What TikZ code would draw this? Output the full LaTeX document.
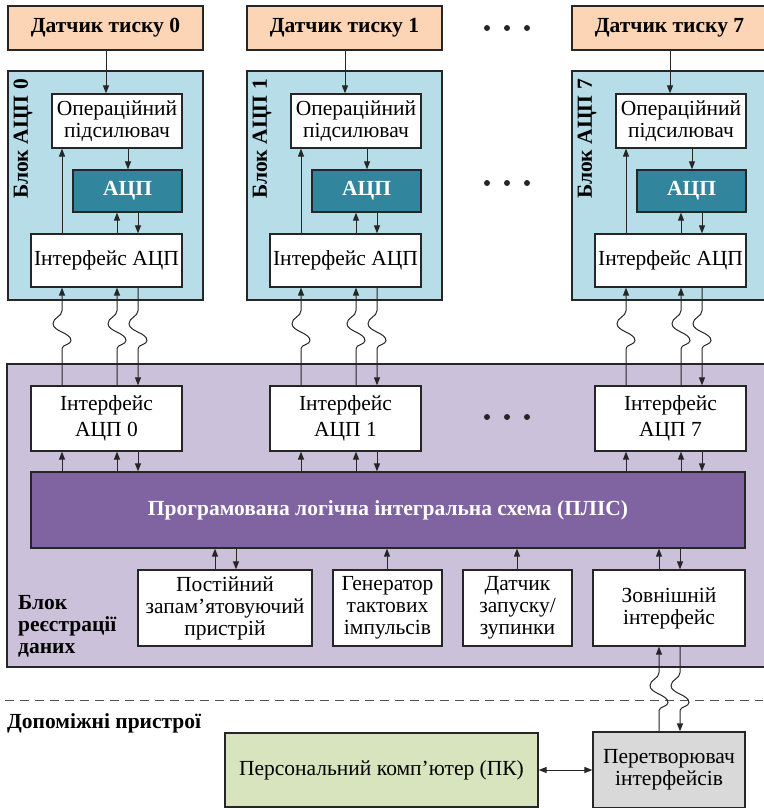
\documentclass[tikz,border=0pt]{standalone}
\usepackage{fontspec}
\setmainfont{Liberation Serif}
\usetikzlibrary{arrows.meta}
\definecolor{peach}{HTML}{FBD5B5}
\definecolor{ltblue}{HTML}{B7DDE8}
\definecolor{tealadc}{HTML}{31859C}
\definecolor{lav}{HTML}{CCC1DA}
\definecolor{purp}{HTML}{8064A2}
\definecolor{ltgreen}{HTML}{D7E4BD}
\definecolor{ltgray}{HTML}{D9D9D9}
\definecolor{edge}{HTML}{262626}
\newcommand\regf{\fontsize{21.5}{22}\selectfont}
\newcommand\bldf{\fontsize{21.5}{22}\selectfont\bfseries}
\tikzset{
  bx/.style={draw=edge, line width=1.2pt, inner sep=0pt, align=center, font=\regf},
  wbox/.style={bx, fill=white},
  arr/.style={draw=edge, line width=1pt, -{Triangle[length=8pt,width=6pt]}},
  arrr/.style={draw=edge, line width=1pt, {Triangle[length=8pt,width=6pt]}-},
  wavy/.style={insert path={.. controls +(0,6) and +(0,-6) .. ++(-9,13) .. controls +(0,8) and +(0,-8) .. ++(18,17) .. controls +(0,4) and +(0,-4) .. ++(-9,8)}},
  dotc/.style={fill=edge}
}
\begin{document}
\begin{tikzpicture}[x=1pt,y=-1pt]
\useasboundingbox (0,0) rectangle (763,808);
\fill[white] (0,0) rectangle (763,808);
% data registration block
\node[bx, fill=lav, minimum width=768pt, minimum height=303pt] (reg) at (391,515.5) {};
\node[font=\bldf, align=left, anchor=west, inner sep=0pt] (reglab) at (18,626) {\fontsize{21.5}{20.5}\selectfont Блок\\реєстрації\\даних};
\foreach \i/\d in {0/0,1/239,7/564}{
  \begin{scope}[xshift=\d pt]
    \node[bx, fill=peach, font=\bldf, minimum width=195pt, minimum height=44pt] (s\i) at (105.5,28) {Датчик тиску \i};
    \node[bx, fill=ltblue, minimum width=195pt, minimum height=229pt] (b\i) at (105.5,185.5) {};
    \node[font=\bldf, rotate=90, anchor=east, inner sep=0pt] (bl\i) at (23,79) {Блок АЦП \i};
    \node[wbox, minimum width=130pt, minimum height=54pt] (op\i) at (117,121) {Операційний\\підсилювач};
    \node[bx, fill=tealadc, text=white, font=\bldf, minimum width=109pt, minimum height=42pt] (adc\i) at (127.5,191) {АЦП};
    \node[wbox, minimum width=151pt, minimum height=53pt] (ia\i) at (106.5,260.5) {Інтерфейс АЦП};
    \node[wbox, font=\fontsize{21.5}{26}\selectfont, minimum width=151pt, minimum height=65pt] (li\i) at (106.5,418.5) {Інтерфейс\\АЦП \i};
    \coordinate (xa\i) at (62,0);
    \coordinate (xb\i) at (117,0);
    \coordinate (xc\i) at (138,0);
    \coordinate (xd\i) at (106,0);
    \coordinate (xe\i) at (128,0);
  \end{scope}
  \draw[arr] (s\i.south -| xd\i) -- (op\i.north -| xd\i);
  \draw[arr] (op\i.south -| xe\i) -- (adc\i.north -| xe\i);
  \draw[arr] (ia\i.north -| xb\i) -- (adc\i.south -| xb\i);
  \draw[arr] (adc\i.south -| xc\i) -- (ia\i.north -| xc\i);
  \draw[arr] (ia\i.north -| xa\i) -- (op\i.south -| xa\i);
  \draw[arrr] (ia\i.south -| xa\i) -- ++(0,23) [wavy] -- (li\i.north -| xa\i);
  \draw[arrr] (ia\i.south -| xb\i) -- ++(0,23) [wavy] -- (li\i.north -| xb\i);
  \draw[arr] (ia\i.south -| xc\i) -- ++(0,23) [wavy] -- (li\i.north -| xc\i);
}
% PLIS
\node[bx, fill=purp, text=white, font=\bldf, minimum width=714pt, minimum height=76pt] (plis) at (388,510) {Програмована логічна інтегральна схема (ПЛІС)};
\foreach \i in {0,1,7}{
  \draw[arr] (plis.north -| xa\i) -- (li\i.south -| xa\i);
  \draw[arr] (plis.north -| xb\i) -- (li\i.south -| xb\i);
  \draw[arr] (li\i.south -| xc\i) -- (plis.north -| xc\i);
}
% bottom boxes
\node[wbox, minimum width=174pt, minimum height=76pt] (rom) at (225,608) {Постійний\\запам’ятовуючий\\пристрій};
\node[wbox, minimum width=109pt, minimum height=76pt] (gen) at (387.5,608) {Генератор\\тактових\\імпульсів};
\node[wbox, minimum width=109pt, minimum height=76pt] (stp) at (517.5,608) {Датчик\\запуску/\\зупинки};
\node[wbox, minimum width=152pt, minimum height=76pt] (ext) at (669,608) {Зовнішній\\інтерфейс};
\coordinate (r1) at (215,0);
\coordinate (r2) at (236,0);
\coordinate (g1) at (387,0);
\coordinate (d1) at (517,0);
\coordinate (e1) at (659,0);
\coordinate (e2) at (680,0);
\draw[arr] (rom.north -| r1) -- (plis.south -| r1);
\draw[arr] (plis.south -| r2) -- (rom.north -| r2);
\draw[arr] (gen.north -| g1) -- (plis.south -| g1);
\draw[arr] (stp.north -| d1) -- (plis.south -| d1);
\draw[arr] (ext.north -| e1) -- (plis.south -| e1);
\draw[arr] (plis.south -| e2) -- (ext.north -| e2);
% auxiliary devices
\coordinate (dl) at (5,700);
\coordinate (dr) at (763,700);
\draw[edge!80, line width=1pt, dash pattern=on 9pt off 6pt] (dl) -- (dr);
\node[font=\bldf, anchor=west, inner sep=0pt] (aux) at (7,723) {Допоміжні пристрої};
\node[bx, fill=ltgreen, minimum width=313pt, minimum height=74pt] (pk) at (381.5,770) {Персональний комп’ютер (ПК)};
\node[bx, fill=ltgray, minimum width=152pt, minimum height=76pt] (conv) at (669,770) {Перетворювач\\інтерфейсів};
\draw[arrr] (ext.south -| e1) -- ++(0,26) [wavy] -- (conv.north -| e1);
\draw[arr] (ext.south -| e2) -- ++(0,26) [wavy] -- (conv.north -| e2);
\draw[draw=edge, line width=1pt, {Triangle[length=8pt,width=6pt]}-{Triangle[length=8pt,width=6pt]}] (pk.east) -- (conv.west);
% ellipsis dots
\foreach \y in {28,183,417}{
  \foreach \x in {487,507,527}{
    \fill[dotc] (\x,\y) circle (3pt);
  }
}
\end{tikzpicture}
\end{document}
